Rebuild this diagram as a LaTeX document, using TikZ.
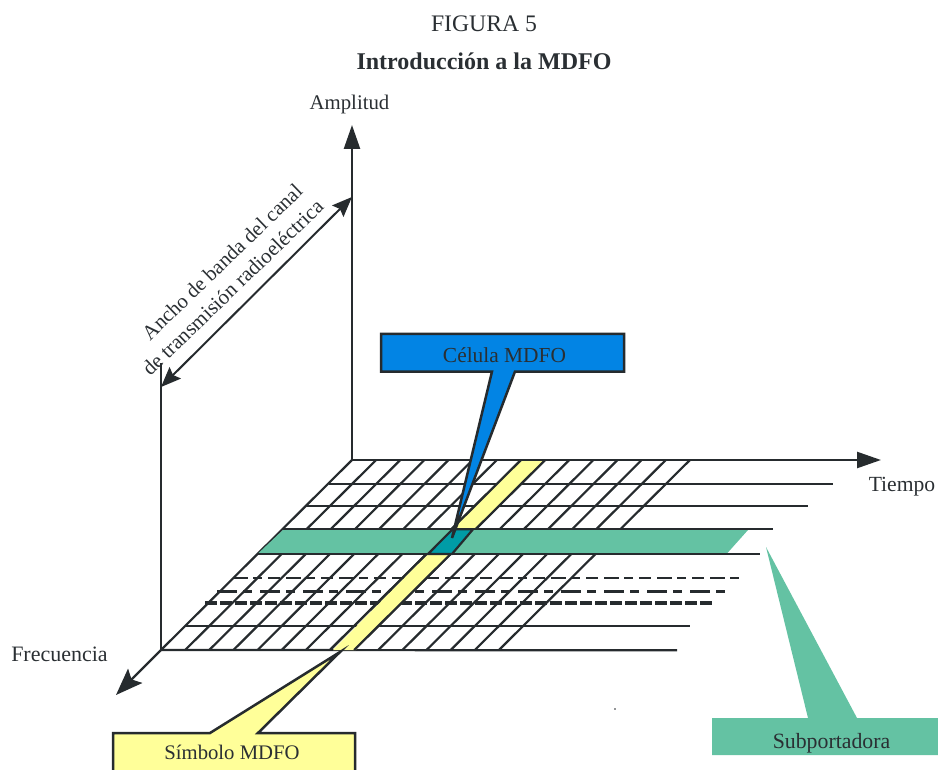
\documentclass[tikz,border=0pt]{standalone}
\usepackage{fontspec}
\setmainfont{Liberation Serif}
\usetikzlibrary{arrows.meta}
\definecolor{ink}{HTML}{262B2E}
\definecolor{txt}{HTML}{2A2F33}
\definecolor{yel}{HTML}{FFFF99}
\definecolor{grn}{HTML}{64C2A3}
\definecolor{cel}{HTML}{009CA6}
\definecolor{blu}{HTML}{0284E4}
\tikzset{
  gridline/.style={draw=ink,line width=2.2pt},
  dashA/.style={gridline,line width=2.7pt,dash pattern=on 15pt off 5pt on 9pt off 6pt on 12pt off 6pt},
  dashB/.style={gridline,line width=2.5pt,dash pattern=on 20pt off 6pt on 9pt off 8pt},
  dashC/.style={gridline,line width=3.9pt,dash pattern=on 12pt off 3pt},
  axis/.style={draw=ink,line width=2.4pt,-{Triangle[length=24pt,width=16pt]}},
  diagaxis/.style={draw=ink,line width=2.4pt,-{Stealth[length=27pt,width=20pt,inset=5pt]}},
  plainaxis/.style={draw=ink,line width=2.4pt},
  dim/.style={draw=ink,line width=2pt,{Stealth[length=20pt,width=16pt,inset=3pt]}-{Stealth[length=20pt,width=16pt,inset=3pt]}},
  lbl/.style={inner sep=0pt,text=txt},
  callout/.style={draw=ink,line width=2.5pt,line join=miter},
}
\newcommand{\fsz}[1]{\fontsize{#1}{#1}\selectfont}
\begin{document}
\begin{tikzpicture}[x=1pt,y=-1pt]
\useasboundingbox (0,0) rectangle (938,770);
% axis anchors
\coordinate (O) at (352,460);
\coordinate (F) at (161,650);
\coordinate (Atip) at (352,125);
\coordinate (Ttip) at (881,460);
\coordinate (Ftip) at (116,695);
\coordinate (Ltop) at (161,363);
\coordinate (Dhi) at (352,197);
\coordinate (Dlo) at (161,387);
% diagonals of the grid
\foreach \i in {0,...,14}{
  \coordinate (t\i) at ({352+\i*24.14},460);
  \coordinate (b\i) at ({161+\i*24.14},650);
  \draw[gridline] (t\i) -- (b\i);
}
% horizontals
\coordinate (h1l) at (329,484);   \coordinate (h1r) at (833,484);
\coordinate (h2l) at (305,505.7); \coordinate (h2r) at (808,505.7);
\coordinate (h3l) at (283,529.3); \coordinate (h3r) at (773,529.3);
\coordinate (h4l) at (258,554);   \coordinate (h4r) at (760,554);
\coordinate (h5l) at (233,578);   \coordinate (h5r) at (739,578);
\coordinate (h6l) at (217,591.3); \coordinate (h6r) at (727,591.3);
\coordinate (h7l) at (205,603.3); \coordinate (h7r) at (713,603.3);
\coordinate (h8l) at (185,626);   \coordinate (h8r) at (690,626);
\coordinate (h9r) at (677,650.3);
\draw[gridline] (h1l) -- (h1r);
\draw[gridline] (h2l) -- (h2r);
\draw[gridline] (h3l) -- (h3r);
\draw[gridline] (h4l) -- (h4r);
\draw[dashA] (h5l) -- (h5r);
\draw[dashB] (h6l) -- (h6r);
\draw[dashC] (h7l) -- (h7r);
\draw[gridline] (h8l) -- (h8r);
\draw[gridline] (F) -- (h9r);
% yellow column
\fill[yel] (521,460) -- (545,460) -- (355.5,650) -- (333,650) -- cycle;
\draw[gridline] (t7) -- (b7);
\draw[gridline] (t8) -- (b8);
% green row
\fill[grn] (283,530) -- (748,530) -- (727,553.5) -- (258,553.5) -- cycle;
\draw[gridline] (h3l) -- (h3r);
\draw[gridline] (h4l) -- (h4r);
% cell
\draw[gridline,fill=cel] (452.5,529.3) -- (473,529.3) -- (452,554) -- (428,554) -- cycle;
% axes
\draw[plainaxis] (F) -- (Ltop);
\draw[axis] (O) -- (Atip);
\draw[axis] (O) -- (Ttip);
\draw[diagaxis] (F) -- (Ftip);
\draw[dim] (Dlo) -- (Dhi);
% callouts
\draw[callout,fill=blu] (492,371.5) -- (452,538) -- (515,371.5) -- (624,371.5) -- (624,334) -- (381,334) -- (381,371.5) -- cycle;
\draw[callout,fill=yel] (113,770) -- (113,733) -- (210,733) -- (340,652) -- (258,733) -- (355,733) -- (355,770);
\fill[grn] (712,718) -- (808,718) -- (766,547) -- (857,718) -- (938,718) -- (938,755) -- (712,755) -- cycle;
\fill[ink] (615,709) circle (0.8pt);
% labels
\node[lbl,font=\fsz{23.7}] (fig) at (484,24) {FIGURA 5};
\node[lbl,font=\bfseries\fsz{24}] (tit) at (484,61) {Introducción a la MDFO};
\node[lbl,font=\fsz{20.8}] (amp) at (349.5,105) {Amplitud};
\node[lbl,font=\fsz{21.6}] (tie) at (902,487) {Tiempo};
\node[lbl,font=\fsz{22}] (fre) at (59.5,654.5) {Frecuencia};
\node[lbl,font=\fsz{21.4}] (cel) at (504.5,355) {Célula MDFO};
\node[lbl,font=\fsz{20.7}] (sim) at (232,752) {Símbolo MDFO};
\node[lbl,font=\fsz{21.8}] (sub) at (831.5,743) {Subportadora};
\node[lbl,font=\fsz{20.7},rotate=44] (an1) at (222,262) {Ancho de banda del canal};
\node[lbl,font=\fsz{21},rotate=44] (an2) at (232.5,287.5) {de transmisión radioeléctrica};
\end{tikzpicture}
\end{document}
